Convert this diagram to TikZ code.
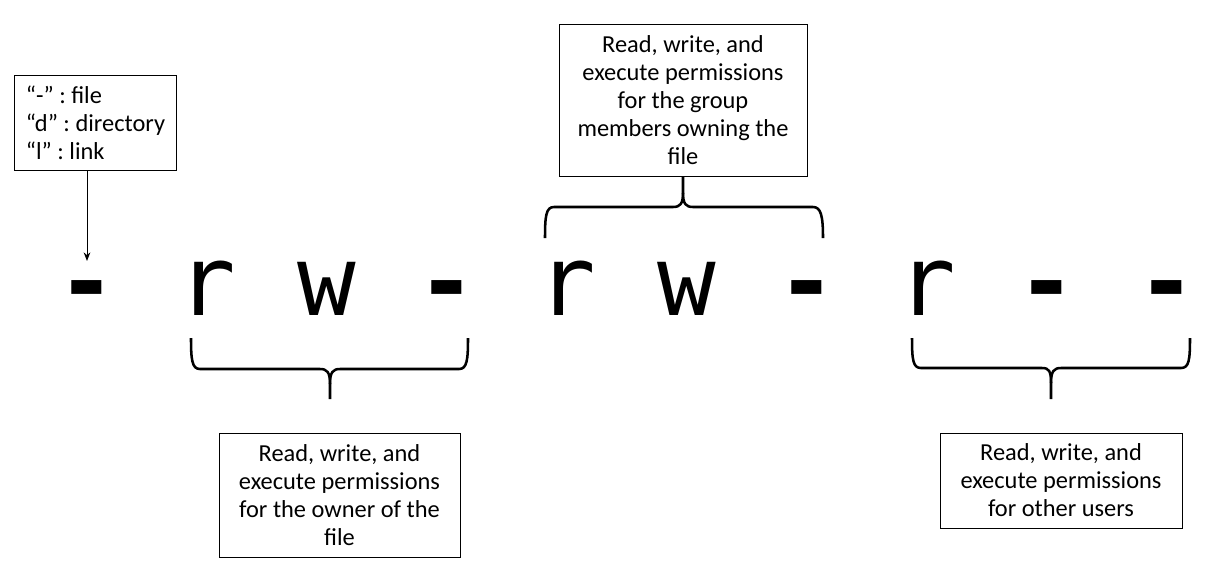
\documentclass[tikz,border=0pt]{standalone}
\usepackage{fontspec}
\setmainfont{Carlito}
\newfontfamily\permfont{DejaVu Sans Mono}
\usetikzlibrary{arrows.meta}
\begin{document}
\frenchspacing
\begin{tikzpicture}[x=0.75pt,y=-0.75pt,
  box/.style={draw,line width=0.75pt,inner sep=0pt,align=center,font=\fontsize{18.3}{21}\selectfont\frenchspacing},
  perm/.style={inner sep=0pt,anchor=base,font=\permfont\fontsize{73}{80}\selectfont},
  pnorm/.style={},
  pbold/.style={font=\permfont\bfseries\fontsize{73}{80}\selectfont},
  brc/.style={line width=1.9pt,line join=round}]
\useasboundingbox (0,0) rectangle (1228,576);

% type box
\node[box,align=left,minimum width=121.5pt,minimum height=71.25pt] (ftype) at (95.5,122.5)
  {“-” : file\\“d” : directory\\“l” : link};

% permission characters
\foreach \i/\x/\ch/\st in {1/87/-/pbold,2/207/r/pnorm,3/327/w/pnorm,4/447/-/pbold,5/567/r/pnorm,6/687/w/pnorm,7/807/-/pbold,8/927/r/pnorm,9/1047/-/pbold,10/1167/-/pbold}
  \node[perm,\st] (c\i) at (\x,315) {\ch};

\coordinate (t1) at (87,261);
\draw[line width=0.75pt,-{Stealth[length=6.5pt,width=5pt]}] (ftype.south -| t1) -- (t1);

% description boxes
\node[box,minimum width=186pt,minimum height=114pt] (grp) at (683,100)
  {Read, write, and\\execute permissions\\for the group\\members owning the\\file};
\node[box,minimum width=180.75pt,minimum height=93pt] (own) at (339.5,495)
  {Read, write, and\\execute permissions\\for the owner of the\\file};
\node[box,minimum width=181.5pt,minimum height=71.25pt] (oth) at (1061,480.5)
  {Read, write, and\\execute permissions\\for other users};

% owner brace
\draw[brc] (191,338) .. controls (191,360) and (192,369) .. (200,369) -- (320,369)
  .. controls (327,369) and (330,372) .. (330,384) -- (330,399);
\draw[brc] (330,384) .. controls (330,372) and (333,369) .. (340,369) -- (459,369)
  .. controls (467,369) and (468,360) .. (468,338);

% group brace
\draw[brc] (545,238) .. controls (545,216) and (546,207) .. (554,207) -- (673,207)
  .. controls (680,207) and (683,204) .. (683,193) -- (grp.south);
\draw[brc] (683,193) .. controls (683,204) and (686,207) .. (693,207) -- (813,207)
  .. controls (821,207) and (823,216) .. (823,238);

% others brace
\draw[brc] (912,338) .. controls (912,360) and (913,368) .. (921,368) -- (1042,368)
  .. controls (1049,368) and (1051,371) .. (1051,383) -- (1051,399);
\draw[brc] (1051,383) .. controls (1051,371) and (1054,368) .. (1061,368) -- (1181,368)
  .. controls (1189,368) and (1190,360) .. (1190,338);
\end{tikzpicture}
\end{document}
